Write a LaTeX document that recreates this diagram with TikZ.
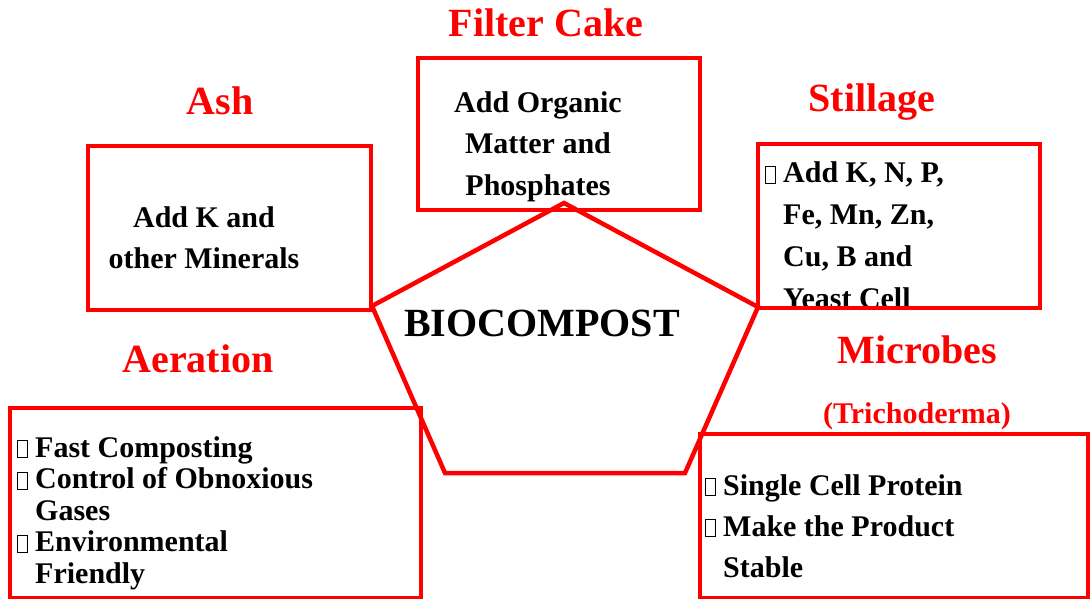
\documentclass[tikz,border=0pt]{standalone}
\usepackage{fontspec}
\setmainfont{Liberation Serif}
\newcommand\bx{\makebox[18pt][l]{\setlength\fboxsep{0pt}\setlength\fboxrule{0.9pt}\fbox{\rule{0pt}{16pt}\hspace{9pt}}}}
\begin{document}
\begin{tikzpicture}[x=1pt,y=-1pt,
  redline/.style={draw=red,line width=4pt},
  infobox/.style={redline,minimum width=#1,inner sep=0pt},
  title/.style={text=red,anchor=base,inner sep=0pt,font=\fontsize{40}{40}\selectfont\bfseries},
  body/.style={inner sep=0pt,font=\fontsize{30}{#1}\selectfont\bfseries}]
\useasboundingbox (0,0) rectangle (1090,599);

% text that sits inside the boxes (placed by the baseline of the last line)
\node[body=41,align=center,anchor=base] (ashtext) at (204,268) {Add K and\\other Minerals};
\node[body=41.5,align=center,anchor=base] (filtertext) at (538,195) {Add Organic\\Matter and\\Phosphates};
\node[body=41.7,align=left,anchor=base west] (stilltext) at (765,308)
  {\bx Add K, N, P,\\\hspace*{18pt}Fe, Mn, Zn,\\\hspace*{18pt}Cu, B and\\\hspace*{18pt}Yeast Cell};
\node[body=31.5,align=left,anchor=base west] (aertext) at (17,583)
  {\bx Fast Composting\\\bx Control of Obnoxious\\\hspace*{18pt}Gases\\\bx Environmental\\\hspace*{18pt}Friendly};
\node[body=41,align=left,anchor=base west] (mictext) at (705,577)
  {\bx Single Cell Protein\\\bx Make the Product\\\hspace*{18pt}Stable};

% boxes
\node[infobox=283pt,minimum height=164pt] (ash) at (229.5,228) {};
\node[infobox=282pt,minimum height=152pt] (filter) at (559,134) {};
\node[infobox=282pt,minimum height=164pt] (still) at (899,226) {};
\node[infobox=411pt,minimum height=190pt] (aer) at (215.5,503) {};
\node[infobox=388pt,minimum height=164pt] (mic) at (894,516) {};

% titles
\node[title] (ashT) at (220,115) {Ash};
\node[title] (filterT) at (546,37) {Filter Cake};
\node[title] (stillT) at (872,112) {Stillage};
\node[title] (micT) at (917,363) {Microbes};
\node[title,font=\fontsize{30}{30}\selectfont\bfseries] (tricho) at (917,423) {(Trichoderma)};
\node[title] (aerT) at (198,372) {Aeration};

% central pentagon
\coordinate (pt) at (564,203);
\coordinate (pr) at (758,307);
\coordinate (pbr) at (685,473);
\coordinate (pbl) at (445,473);
\coordinate (pl) at (372,306);
\draw[red,line width=4.5pt] (pt) -- (pr) -- (pbr) -- (pbl) -- (pl) -- cycle;
\node[anchor=base,inner sep=0pt,font=\fontsize{40}{40}\selectfont\bfseries] (bio) at (542,336) {BIOCOMPOST};
\end{tikzpicture}
\end{document}
